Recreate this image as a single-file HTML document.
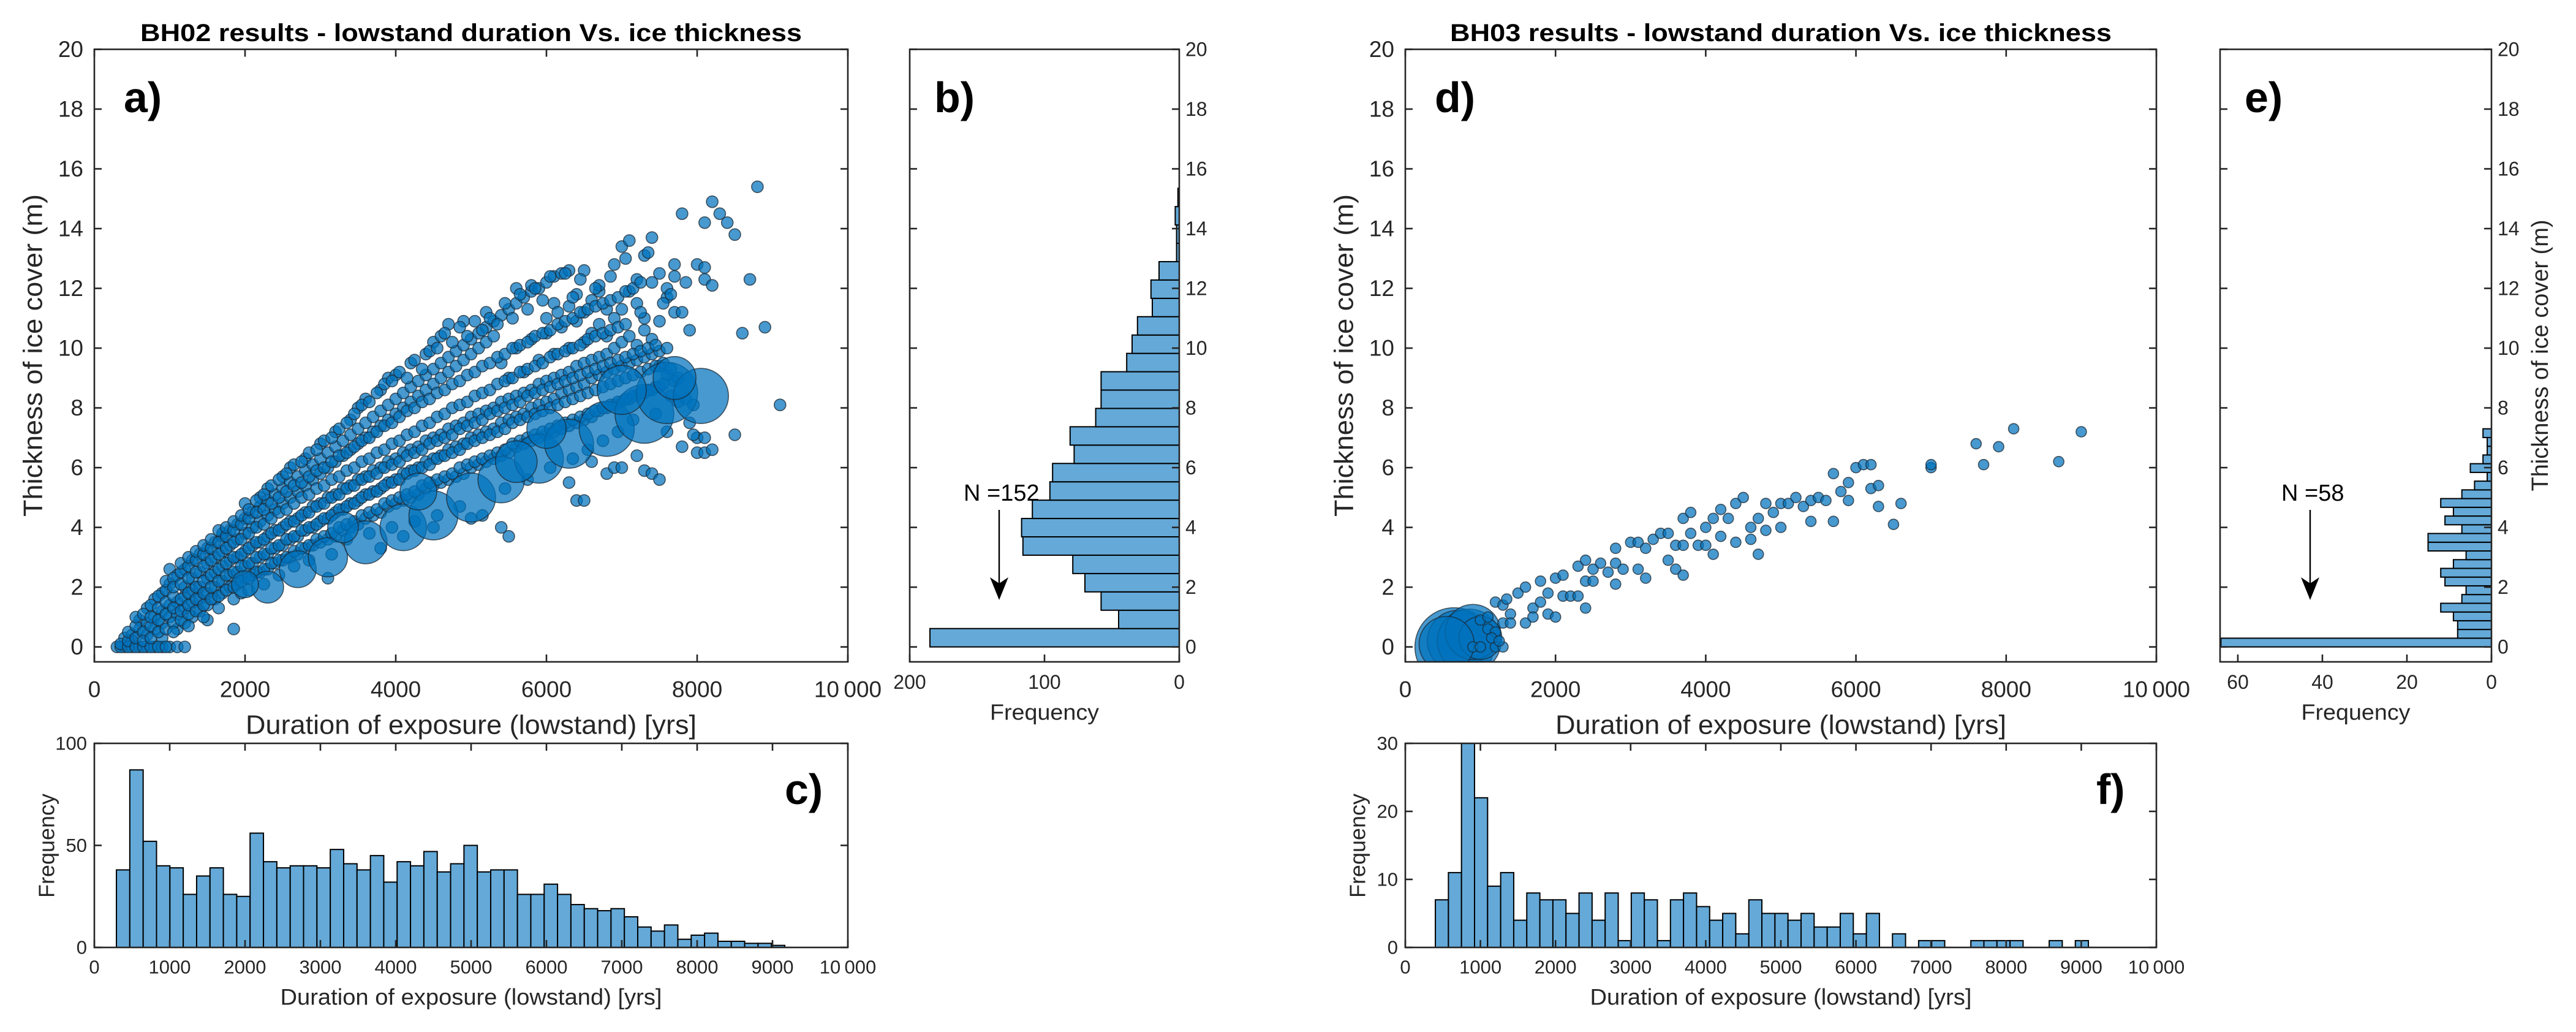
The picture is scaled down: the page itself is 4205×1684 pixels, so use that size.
<!DOCTYPE html>
<html><head><meta charset="utf-8"><style>
html,body{margin:0;padding:0;background:#fff;}
svg{display:block;font-family:"Liberation Sans",Arial,sans-serif;}
</style></head><body>
<svg id="fig" width="4205" height="1684" viewBox="0 0 4205 1684" xmlns="http://www.w3.org/2000/svg">
<rect width="4205" height="1684" fill="#fff"/>
</svg>
<script>
// ---------- DATA ----------
// Panel a scatter: rows [x in hundreds of yrs, y values...]
const scatterA = [
[3,0],[4,0,0.3],[5,0,0.4,0.2],[6,0,0.6,0.9],[7,0,0.8,1.3,0.4],[8,0,1.0,1.6,0.6],[9,0,1.2,1.8,0.8,0.3],
[10,0,1.4,2.1,1.0,2.6],[11,0,1.5,2.4,1.1,0.6],[12,1.7,2.6,1.3,0.8,2.0,0],[13,1.9,2.9,1.5,1.0,2.3],[14,2.0,3.1,1.6,2.5,1.2],
[15,2.3,3.3,1.8,2.8,1.4,0.9],[16,2.5,3.5,2.0,3.0,1.6],[17,2.7,3.7,2.2,3.2,1.8,3.8],[18,2.9,3.9,2.4,3.4,2.0],[18.5,0.6],
[19,3.0,4.1,2.5,3.6,2.1],[20,3.2,4.3,2.7,3.8,2.3,4.8],[21,3.4,4.5,2.8,4.0,2.4],[22,3.5,4.7,3.0,4.2,2.5,5.0],
[23,3.7,4.9,3.1,4.4,2.6,5.3],[24,3.9,5.1,3.3,4.6,2.8],[25,4.0,5.3,3.4,4.8,2.9,5.7],[26,4.2,5.5,3.6,5.0,3.0,6.0],
[27,4.3,5.7,3.7,5.2,3.1],[28,4.5,5.9,3.9,5.4,3.3,6.3],[29,4.7,6.1,4.0,5.6,3.4],[30,4.8,6.3,4.2,5.8,3.5,6.8],
[31,5.0,6.5,4.3,6.0,3.6,2.3],[32,5.1,6.7,4.5,6.2,3.7,7.2],[33,5.3,6.9,4.6,6.4,3.9],[34,5.4,7.1,4.8,6.6,4.0,7.6],
[35,5.6,7.3,4.9,6.8,4.1,8.0],[36,5.7,7.5,5.1,7.0,4.3,8.3],[37,5.9,7.7,5.2,7.2,4.4],[38,6.0,7.9,5.3,7.4,4.5,8.6,3.3],
[39,6.2,8.1,5.5,7.6,4.7,9.0],[40,6.3,8.3,5.6,7.8,4.8,9.1],[41,6.5,8.5,5.8,8.0,4.9,3.7],[42,6.6,8.7,5.9,8.2,5.0,9.5],
[43,6.7,8.9,6.0,8.4,5.1],[44,6.9,9.1,6.2,8.6,5.3,9.8],[45,7.0,9.3,6.3,8.8,5.4,10.2,4.0],[46,7.1,9.5,6.4,9.0,5.5,10.4],
[47,7.3,9.7,6.6,9.2,5.6,10.8],[48,7.4,9.9,6.7,9.4,5.7],[49,7.5,10.1,6.8,9.6,5.8,10.9],[50,7.7,10.3,7.0,9.8,6.0,4.3],
[51,7.8,10.5,7.1,10.0,6.1],[52,7.9,10.7,7.2,10.2,6.2,11.2],[53,8.0,10.9,7.3,10.4,6.3],[54,8.2,11.1,7.5,9.5,6.4,4.0],
[55,8.3,11.3,7.6,9.0,6.5,3.7],[56,8.4,11.5,7.7,10.0,6.7,12.0],[57,8.5,11.7,7.8,9.2,6.8],[58,8.6,11.9,8.0,10.3,6.9,12.1],
[59,8.8,12.0,8.1,9.6,7.0],[60,8.9,12.2,8.2,10.5,7.1,11.0],[61,9.0,12.4,8.3,9.8,7.2,11.5],[62,9.1,12.5,8.5,10.7,7.3],
[63,9.2,11.4,8.6,10.0,7.4,12.6,5.5],[64,9.4,11.8,8.7,10.9,7.5,4.9],[65,9.5,11.2,8.8,10.2,7.6,12.6,4.9],[66,9.6,11.6,9.0,10.5,7.7,6.2],
[67,9.7,11.9,9.1,10.8,7.9,12.1],[68,9.8,11.3,9.2,10.4,8.0,5.8],[69,10.0,12.8,9.3,11.0,8.1,6.0],[70,10.2,13.4,9.4,11.3,8.2,6.0],
[71,10.4,13.6,9.5,11.9,8.3],[72,10.1,12.3,9.6,11.5,8.4,6.4],[73,10.6,13.1,9.7,11.0,8.5,5.9],[74,10.3,13.7,9.8,12.2,8.6,5.8],
[75,9.9,10.9,9.4,12.5,8.7,5.6],[76,11.7,12.0,9.1,10.0,7.2],[77,12.8,12.4,11.2,8.9],[78,14.5,11.2,6.7],[79,10.6,7.5],
[80,12.8,7.0,6.5],[81,12.7,14.2,6.5,12.3,7.0],[82,12.1,14.9,6.6],[83,14.5],[84,14.2],[85,13.8,7.1],[86,10.5],[87,12.3],
[88,15.4],[89,10.7],[91,8.1]
];
const scatterA2 = [
[3.5,0,0.1],[4.5,0,0.2,0.5],[5.5,0,0.3,0.7,1.0],[6.5,0,0.5,1.1,0.2],[7.5,0,0.7,1.4,1.0,0.3],[8.5,0,0.9,1.7,0.5,1.3],[9.5,0,1.1,1.9,0.6,1.5,2.2],
[10.5,0.8,1.3,2.3,0.5,1.7,2.0],[11.5,0.9,1.6,2.5,1.2,2.1,2.8],[12.5,1.1,1.8,2.7,1.4,2.3,3.0,0.7],[13.5,1.2,2.0,2.9,1.6,2.5,3.2],
[14.5,1.4,2.2,3.1,1.8,2.7,3.4,1.0],[15.5,1.6,2.4,3.3,2.0,2.9,3.6],[16.5,1.7,2.6,3.5,2.2,3.1,3.9,1.3],[17.5,1.9,2.8,3.7,2.4,3.3,4.0],
[18.5,2.0,3.0,3.9,2.5,3.5,4.2,1.6],[19.5,2.2,3.1,4.1,2.7,3.6,4.4,1.8],[20.5,2.3,3.3,4.3,2.8,3.8,4.6,1.9],[21.5,2.5,3.5,4.5,3.0,4.0,4.9],
[22.5,2.6,3.6,4.6,3.1,4.1,5.1,2.1],[23.5,2.8,3.8,4.8,3.3,4.3,5.4],[24.5,2.9,3.9,5.0,3.4,4.5,5.6,2.4],[25.5,3.0,4.1,5.2,3.6,4.6,5.8],
[26.5,3.2,4.2,5.4,3.7,4.8,6.1,2.7],[27.5,3.3,4.4,5.5,3.9,5.0,6.2],[28.5,3.4,4.5,5.7,4.0,5.1,6.5,2.9],[29.5,3.6,4.7,5.9,4.1,5.3,6.6],
[30.5,3.7,4.8,6.0,4.3,5.4,6.9],[31.5,3.8,5.0,6.2,4.4,5.6,7.0,3.1],[32.5,4.0,5.1,6.4,4.6,5.7,7.3],[33.5,4.1,5.3,6.5,4.7,5.9,7.5,3.6],
[34.5,4.2,5.4,6.7,4.8,6.0,7.8],[35.5,4.4,5.6,6.9,5.0,6.2,8.1],[36.5,4.5,5.7,7.0,5.1,6.3,8.2,3.8],[37.5,4.6,5.8,7.2,5.2,6.5,8.5],
[38.5,4.8,6.0,7.4,5.4,6.6,8.8],[39.5,4.9,6.1,7.5,5.5,6.8,8.9,4.0],[40.5,5.0,6.2,7.7,5.6,6.9,9.2],[41.5,5.1,6.4,7.9,5.8,7.1,9.0],
[42.5,5.2,6.5,8.0,5.9,7.2,9.6,4.2],[43.5,5.4,6.6,8.2,6.0,7.4,9.3],[44.5,5.5,6.8,8.3,6.1,7.5,9.9],[45.5,5.6,6.9,8.5,6.3,7.7,10.0,4.4],
[46.5,5.7,7.0,8.6,6.4,7.8,10.5],[47.5,5.8,7.1,8.8,6.5,8.0,10.2],[48.5,6.0,7.3,8.9,6.6,8.1,10.7,4.7],[49.5,6.1,7.4,9.1,6.8,8.2,10.4],
[50.5,6.2,7.5,9.2,6.9,8.4,10.9],[51.5,6.3,7.6,9.4,7.0,8.5,10.6,4.4],[52.5,6.4,7.8,9.5,7.1,8.6,11.0],[53.5,6.5,7.9,9.7,7.2,8.8,10.8],
[54.5,6.6,8.0,9.8,7.3,8.9,11.5,5.3],[55.5,6.8,8.1,10.0,7.5,9.0,11.0],[56.5,6.9,8.2,10.1,7.6,9.2,11.8],[57.5,7.0,8.4,10.2,7.7,9.3,11.3,5.6],
[58.5,7.1,8.5,10.4,7.8,9.4,12.0],[59.5,7.2,8.6,10.5,7.9,9.5,11.6],[60.5,7.3,8.7,10.6,8.0,9.7,12.4,6.0],[61.5,7.4,8.8,10.8,8.1,9.8,11.2],
[62.5,7.5,8.9,10.9,8.2,9.9,12.5],[63.5,7.6,9.0,11.0,8.3,10.0,11.7,6.3],[64.5,7.7,9.1,11.2,8.4,10.1,12.3],[65.5,7.8,9.2,11.3,8.5,10.3,6.6],
[66.5,7.9,9.3,11.4,8.6,10.4,12.0],[67.5,8.0,9.4,11.5,8.7,10.5,6.9],[68.5,8.1,9.5,11.6,8.8,10.6,12.4],[69.5,8.2,9.6,11.7,8.9,10.7,7.2],
[70.5,8.3,9.7,11.9,9.0,10.8,13.0],[71.5,8.4,9.8,12.0,9.1,7.6],[72.5,8.5,9.9,12.2,9.2,11.2],[73.5,8.6,10.0,9.3,13.2],[74.5,8.7,10.1,9.4,7.8],
[75.5,8.8,9.5,11.5],[76.5,8.4,9.3,11.8],[77.5,8.2,9.0],[78.5,8.3,12.2],[79.5,8.1,7.1]
];
// Panel a bubbles: x (yrs), y (m), radius (px)
const bubbleAX = [2300,2700,3100,3600,4100,4500,5000,5400,5900,6300,6800,7300,7600,8050,7000,4300,3300,6000,7700,2000,5600];
const bubbleAY = [2.0,2.6,3.0,3.5,4.0,4.4,5.0,5.6,6.3,6.8,7.3,7.8,8.5,8.4,8.6,5.2,4.0,7.3,9.0,2.1,6.2];
const bubbleAW = [26,30,32,35,38,40,40,38,40,40,45,48,50,45,40,30,25,32,35,22,34];
// Panel d scatter
const scatterDX = [1200,1300,1350,1300,1400,1400,1500,1600,1600,1700,1700,1800,1800,1900,1900,2000,2000,2100,2100,2200,2300,2300,2400,2400,2400,2500,2500,2600,2700,2800,2800,2800,2900,3000,3100,3100,3200,3200,3300,3400,3500,3500,3600,3600,3700,3700,3700,3800,3800,3900,4000,4000,4100,4100,4200,4200,4300,4400,4400,4500,4600,4600,4700,4700,4800,4800,4900,5000,5000,5100,5200,5300,5400,5400,5500,5600,5700,5700,5800,5900,5900,6000,6100,6200,6200,6300,6300,6500,6600,7000,7000,7600,7700,7900,8100,8700,9000,1000,1100,1200,1200,1300,1100,900,1000,1150,1250];
const scatterDY = [1.5,1.4,1.6,0.8,1.1,0.8,1.8,0.8,2.0,1.3,1.0,1.5,2.2,1.8,1.1,2.3,1.0,2.4,1.7,1.7,1.7,2.7,2.9,2.2,1.3,2.6,2.2,2.8,2.5,2.8,2.1,3.3,2.6,3.5,3.5,2.6,3.3,2.3,3.6,3.8,2.9,3.8,3.4,2.6,4.3,3.4,2.4,3.8,4.5,3.4,4.0,3.4,4.3,3.1,4.6,3.7,4.3,4.8,3.5,5.0,4.0,3.6,3.1,4.3,4.8,3.9,4.5,4.8,4.0,4.8,5.0,4.7,4.9,4.2,5.0,4.9,4.2,5.8,5.2,5.5,4.9,6.0,6.1,6.1,5.3,5.4,4.7,4.1,4.8,6.0,6.1,6.8,6.1,6.7,7.3,6.2,7.2,0.9,0.6,0.5,0,0,1.0,0,0,0.3,0.2];
const bubbleDX = [650,700,850,900,1000,550];
const bubbleDY = [0,0.2,0.2,0.5,0.3,0.1];
const bubbleDW = [64,50,52,45,35,45];
// Histograms
const histCValues = [38,87,52,40,39,26,35,39,26,25,56,42,39,40,40,39,48,41,38,45,32,42,40,47,37,41,50,37,38,38,26,26,31,26,21,19,18,19,15,10,8,11,4,6,7,3,3,2,2,1];
const histCStart = 293, histCWidth = 177.4;
const histFValues = [7,11,30,22,9,11,4,8,7,7,5,8,4,8,1,8,7,1,7,8,6,4,5,2,7,5,5,4,5,3,3,5,2,5,0,2,0,1,1,0,0,1,1,1,1,0,0,1,0,1];
const histFStart = 400, histFWidth = 173.9;
const histBValues = [185,45,58,70,79,116,117,109,96,94,78,81,62,58,58,39,35,31,20,21,15,2,2,3,1];
const histBWidth = 0.614;
const histEValues = [64,8,8,9,12,7,6,11,12,9,6,15,15,7,11,9,12,7,4,1,5,2,1,1,2];
const histEWidth = 0.292;
const yTicksMain = [0,2,4,6,8,10,12,14,16,18,20];
const xTicksMain = [0,2000,4000,6000,8000,10000];
const xTickLabelsMain = ["0","2000","4000","6000","8000","10\u2009000"];
const xTicksHist = [0,1000,2000,3000,4000,5000,6000,7000,8000,9000,10000];
const xTickLabelsHist = ["0","1000","2000","3000","4000","5000","6000","7000","8000","9000","10\u2009000"];

// ---------- DRAW ----------
const NS = "http://www.w3.org/2000/svg";
const svg = document.getElementById('fig');
function mk(tag, attrs, parent){
  const e = document.createElementNS(NS, tag);
  for (const k in attrs) e.setAttribute(k, attrs[k]);
  (parent||svg).appendChild(e);
  return e;
}
function lin(d0,d1,p0,p1){ return v => p0 + (v-d0)/(d1-d0)*(p1-p0); }
const AX = '#262626';
const MARK = '#0072BD';
const HFILL = '#64a9d8';

function txt(parent, x, y, s, size, anchor, name, extra){
  const t = mk('text', Object.assign({x:x, y:y, 'font-size':size, 'text-anchor':anchor||'middle', 'dominant-baseline':'central', fill:'#262626'}, extra||{}), parent);
  t.textContent = s;
  
  
  return t;
}

function frame(g, L, R, T, B){
  const r = mk('rect', {x:L, y:T, width:R-L, height:B-T, fill:'none', stroke:AX, 'stroke-width':2.6}, g);
  
  
}

function mainScatter(id, L, R, title, label, rowSets, xs, ys, bx, by, bw, pr){
  const T=80.5, B=1080;
  const g = mk('g', {}, svg);
  
  
  const sx = lin(0,10000,L,R), sy = lin(-0.5,20,B,T);
  const clip = mk('clipPath', {id:'clip'+id}, g);
  mk('rect', {x:L, y:T, width:R-L, height:B-T}, clip);
  const pg = mk('g', {'clip-path':'url(#clip'+id+')'}, g);
  
  
  function dot(x,y,r){
    const c = mk('circle', {cx:sx(x), cy:sy(y), r:r, fill:MARK, 'fill-opacity':0.72, stroke:'#1c2833', 'stroke-opacity':0.75, 'stroke-width':1.6}, pg);
    
    
  }
  if (rowSets) rowSets.forEach(rows => rows.forEach(row => { for (let j=1;j<row.length;j++) dot(row[0]*100, row[j], pr); }));
  for (let i=0;i<bx.length;i++) dot(bx[i], by[i], bw[i]);
  if (xs) for (let i=0;i<xs.length;i++) dot(xs[i], ys[i], pr);
  frame(g,L,R,T,B);
  yTicksMain.forEach(v => {
    const y = sy(v);
    const t1 = mk('line',{x1:L,x2:L+12,y1:y,y2:y,stroke:AX,'stroke-width':2.6},g);
    
    
    const t2 = mk('line',{x1:R,x2:R-12,y1:y,y2:y,stroke:AX,'stroke-width':2.6},g);
    
    
    txt(g, L-18, y, String(v), 37, 'end', 'y-tick-label');
  });
  xTicksMain.forEach((v,i) => {
    const x = sx(v);
    const t1 = mk('line',{x1:x,x2:x,y1:B,y2:B-12,stroke:AX,'stroke-width':2.6},g);
    
    
    const t2 = mk('line',{x1:x,x2:x,y1:T,y2:T+12,stroke:AX,'stroke-width':2.6},g);
    
    
    txt(g, x, 1125, xTickLabelsMain[i], 37, 'middle', 'x-tick-label');
  });
  txt(g, (L+R)/2, 1183, 'Duration of exposure (lowstand) [yrs]', 44, 'middle', 'x-axis-title', {textLength:736, lengthAdjust:'spacingAndGlyphs'});
  txt(g, 0, 0, 'Thickness of ice cover (m)', 44, 'middle', 'y-axis-title', {textLength:526, lengthAdjust:'spacingAndGlyphs', transform:'translate('+(L-100)+',580) rotate(-90)'});
  txt(g, (L+R)/2, 54, title, 40, 'middle', 'chart-title', {'font-weight':'bold', fill:'#000', textLength:1080, lengthAdjust:'spacingAndGlyphs'});
  txt(g, L+48, 159, label, 70, 'start', 'panel-label', {'font-weight':'bold', fill:'#000'});
}

function sideHist(id, L, R, xmax, vals, w, ticks, nText, nx, ax, ylabel){
  const T=80.5, B=1080;
  const g = mk('g', {}, svg);
  
  
  const sx = lin(0,xmax,R,L), sy = lin(-0.5,20,B,T);
  vals.forEach((v,i) => {
    const y1 = sy((i+1)*w), y0 = sy(i*w);
    const x = Math.max(sx(v), L);
    if (v<=0) return;
    const r = mk('rect',{x:x, y:y1, width:R-x, height:y0-y1, fill:HFILL, stroke:'#000', 'stroke-width':2}, g);
    
    
  });
  frame(g,L,R,T,B);
  yTicksMain.forEach(v => {
    const y = sy(v);
    const t1 = mk('line',{x1:L,x2:L+12,y1:y,y2:y,stroke:AX,'stroke-width':2.6},g);
    
    
    const t2 = mk('line',{x1:R,x2:R-12,y1:y,y2:y,stroke:AX,'stroke-width':2.6},g);
    
    
    txt(g, R+10, y, String(v), 32, 'start', 'y-tick-label');
  });
  ticks.forEach(v => {
    const x = sx(v);
    const t1 = mk('line',{x1:x,x2:x,y1:B,y2:B-12,stroke:AX,'stroke-width':2.6},g);
    
    
    txt(g, x, 1113, String(v), 32, 'middle', 'x-tick-label');
  });
  txt(g, (L+R)/2, 1162, 'Frequency', 36, 'middle', 'x-axis-title', {textLength:178, lengthAdjust:'spacingAndGlyphs'});
  txt(g, L+40, 159, id+')', 70, 'start', 'panel-label', {'font-weight':'bold', fill:'#000'});
  txt(g, nx, 805, nText, 38, 'start', 'sample-count-annotation', {fill:'#000'});
  const ln = mk('line',{x1:ax,x2:ax,y1:832,y2:960,stroke:'#000','stroke-width':2.4},g);
  
  
  const hd = mk('path',{d:'M'+(ax-15)+',942 L'+ax+',979 L'+(ax+15)+',942 L'+ax+',952 Z',fill:'#000'},g);
  
  
  if (ylabel) txt(g, 0, 0, 'Thickness of ice cover (m)', 38, 'middle', 'y-axis-title-right', {textLength:443, lengthAdjust:'spacingAndGlyphs', transform:'translate(4147,580) rotate(-90)'});
}

function bottomHist(id, L, R, ymax, yt, vals, start, w, cx){
  const T=1213, B=1546;
  const g = mk('g', {}, svg);
  
  
  const sx = lin(0,10000,L,R), sy = lin(0,ymax,B,T);
  vals.forEach((v,i) => {
    const x0 = sx(start+i*w), x1 = sx(start+(i+1)*w);
    const y = Math.max(sy(v), T);
    const r = mk('rect',{x:x0, y:y, width:x1-x0, height:B-y, fill:HFILL, stroke:'#000', 'stroke-width':2}, g);
    
    
  });
  frame(g,L,R,T,B);
  yt.forEach(v => {
    const y = sy(v);
    const t1 = mk('line',{x1:L,x2:L+12,y1:y,y2:y,stroke:AX,'stroke-width':2.6},g);
    
    
    const t2 = mk('line',{x1:R,x2:R-12,y1:y,y2:y,stroke:AX,'stroke-width':2.6},g);
    
    
    txt(g, L-12, y, String(v), 31, 'end', 'y-tick-label');
  });
  xTicksHist.forEach((v,i) => {
    const x = sx(v);
    const t1 = mk('line',{x1:x,x2:x,y1:B,y2:B-12,stroke:AX,'stroke-width':2.6},g);
    
    
    const t2 = mk('line',{x1:x,x2:x,y1:T,y2:T+12,stroke:AX,'stroke-width':2.6},g);
    
    
    txt(g, x, 1578, xTickLabelsHist[i], 31, 'middle', 'x-tick-label');
  });
  txt(g, (L+R)/2, 1627, 'Duration of exposure (lowstand) [yrs]', 37, 'middle', 'x-axis-title', {textLength:623, lengthAdjust:'spacingAndGlyphs'});
  txt(g, 0, 0, 'Frequency', 36, 'middle', 'y-axis-title', {transform:'translate('+(L-78)+',1380) rotate(-90)'});
  txt(g, cx, 1288, id+')', 70, 'start', 'panel-label', {'font-weight':'bold', fill:'#000'});
}

mainScatter('a', 154, 1384, 'BH02 results - lowstand duration Vs. ice thickness', 'a)', [scatterA, scatterA2], null, null, bubbleAX, bubbleAY, bubbleAW, 9.5);
sideHist('b', 1485, 1925, 200, histBValues, histBWidth, [0,100,200], 'N =152', 1573, 1631, false);
bottomHist('c', 154, 1384, 100, [0,50,100], histCValues, histCStart, histCWidth, 1281);
mainScatter('d', 2294, 3520, 'BH03 results - lowstand duration Vs. ice thickness', 'd)', null, scatterDX, scatterDY, bubbleDX, bubbleDY, bubbleDW, 8.5);
sideHist('e', 3624, 4067, 64.2, histEValues, histEWidth, [0,20,40,60], 'N =58', 3724, 3771, true);
bottomHist('f', 2294, 3520, 30, [0,10,20,30], histFValues, histFStart, histFWidth, 3422);
</script>
</body></html>
